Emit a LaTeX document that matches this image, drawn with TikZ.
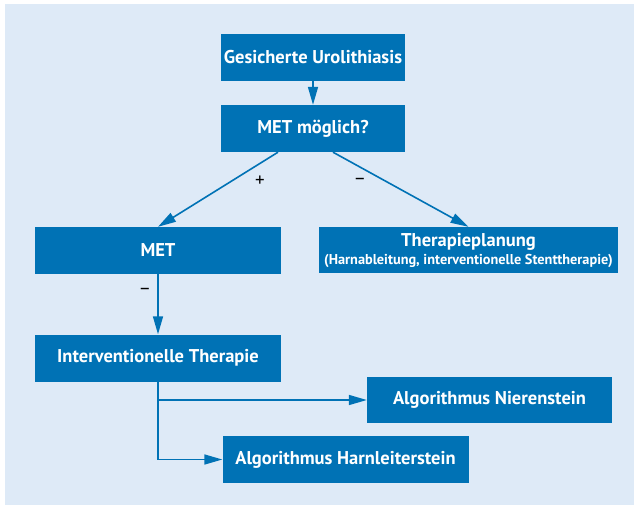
\documentclass[tikz,border=0pt]{standalone}
\usepackage{fontspec}
\setmainfont{PT Sans}
\usetikzlibrary{arrows.meta,calc}
\definecolor{boxblue}{RGB}{0,114,181}
\definecolor{panel}{RGB}{222,234,247}
\tikzset{
  flowbox/.style={fill=boxblue, text=white, font=\bfseries\fontsize{18.5}{21}\selectfont,
    inner sep=0pt, align=center, anchor=center},
  link/.style={draw=boxblue, line width=1.6pt,
    -{Triangle[length=18pt,width=10pt]}},
  sign/.style={font=\fontsize{19}{21}\selectfont, text=black}
}
\begin{document}
\begin{tikzpicture}[x=1pt,y=-1pt]
  \useasboundingbox (0,0) rectangle (639,509);
  \fill[panel] (5,4) rectangle (634,505);

  \node[flowbox, minimum width=184pt, minimum height=47pt] (start) at (313,57.5) {Gesicherte Urolithiasis};
  \node[flowbox, minimum width=184pt, minimum height=47pt] (q) at (313,128.5) {MET möglich?};
  \node[flowbox, minimum width=246pt, minimum height=47pt] (met) at (158,250.5) {MET};
  \node[flowbox, minimum width=299pt, minimum height=46pt] (plan) at (468.5,250)
    {Therapieplanung\\[-3pt]{\fontsize{14.3}{16}\selectfont (Harnableitung, interventionelle Stenttherapie)}};
  \node[flowbox, minimum width=246pt, minimum height=47pt] (interv) at (158,358) {Interventionelle Therapie};
  \node[flowbox, minimum width=245pt, minimum height=46pt] (niere) at (489.5,400) {Algorithmus Nierenstein};
  \node[flowbox, minimum width=246pt, minimum height=47pt] (harn) at (345.5,459.5) {Algorithmus Harnleiterstein};

  \coordinate (qL) at ($(q.south)+(-35,0)$);
  \coordinate (qR) at ($(q.south)+(20,0)$);

  \draw[link] (start) -- (q);
  \draw[link] (qL) -- (met.north);
  \draw[link] (qR) -- (plan.north);
  \draw[link] (met) -- (interv);
  \draw[link] (interv.south) |- (niere.west);
  \draw[link] (interv.south) |- (harn.west);

  \node[sign] (plus) at (260,181) {+};
  \node[sign] (minus1) at (360,181) {–};
  \node[sign] (minus2) at (145,291) {–};
\end{tikzpicture}
\end{document}
